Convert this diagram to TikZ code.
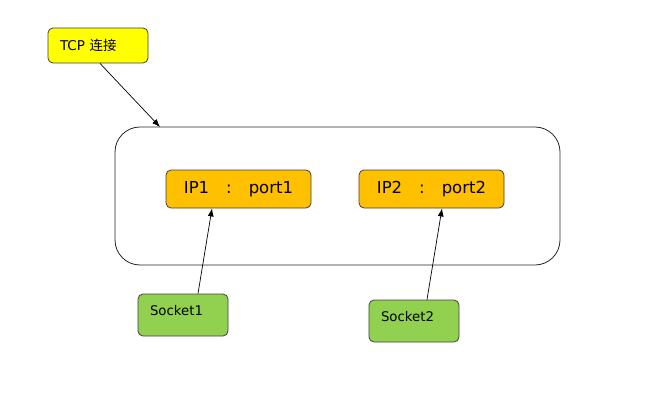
\documentclass[tikz,border=0pt]{standalone}
\usepackage{fontspec}
\setmainfont{DejaVu Sans}
\newfontfamily\cjkfont{Noto Sans CJK SC}
\usetikzlibrary{shapes,positioning,arrows.meta}
\definecolor{tcpfill}{HTML}{FFFF00}
\definecolor{ipfill}{HTML}{FFC000}
\definecolor{sockfill}{HTML}{92D050}

\begin{document}
\begin{tikzpicture}[x=1pt,y=-1pt]
	\tikzset{box/.style={draw=black!75,rounded corners=5pt,line width=0.8pt,inner sep=0pt}}
	\tikzset{ipbox/.style={box,fill=ipfill,minimum width=145pt,minimum height=38pt,font=\fontsize{16.5}{19}\selectfont}}
	\tikzset{sockbox/.style={box,fill=sockfill,minimum width=90pt,minimum height=42pt,text width=66pt,align=left,text height=10pt,text depth=10pt,font=\fontsize{13.3}{16}\selectfont}}
	\tikzset{link/.style={-{Latex[length=8pt,width=6pt]},line width=0.7pt}}
	\useasboundingbox (0,0) rectangle (661,420);
	\node[draw=black!85,rounded corners=25pt,line width=0.8pt,minimum width=445pt,minimum height=138pt] (conn) at (337.5,196) {};
	\node[box,fill=tcpfill,minimum width=100pt,minimum height=35pt,text width=76pt,align=left,font=\fontsize{13.5}{16}\selectfont] (tcp) at (98,45.5) {TCP {\cjkfont 连接}};
	\node[ipbox] (ip1) at (238.5,189) {IP1\hspace{17pt}:\hspace{17pt}port1};
	\node[ipbox] (ip2) at (431.5,189) {IP2\hspace{17pt}:\hspace{17pt}port2};
	\node[sockbox] (sock1) at (183,315) {Socket1};
	\node[sockbox] (sock2) at (414,321) {Socket2};
	\coordinate (conntop) at (160,127);
	% arrows
	\draw[link] ([xshift=2pt]tcp.south) -- (conntop);
	\draw[link] ([xshift=15pt]sock1.north) -- ([xshift=-26.5pt]ip1.south);
	\draw[link] ([xshift=13pt]sock2.north) -- ([xshift=10.5pt]ip2.south);
\end{tikzpicture}
\end{document}
